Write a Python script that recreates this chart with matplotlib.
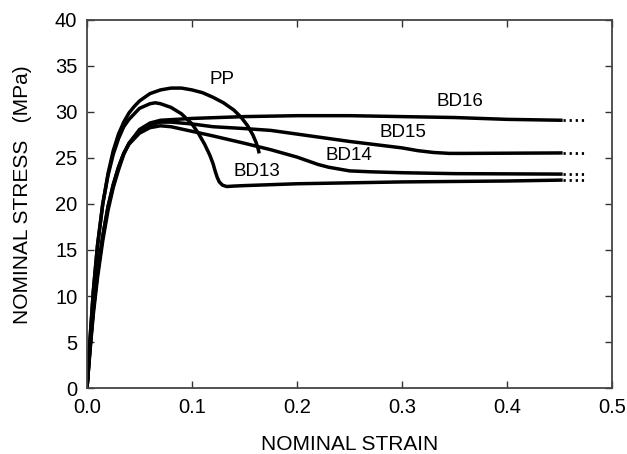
import matplotlib
matplotlib.use("Agg")
import matplotlib.pyplot as plt

plt.rcParams['font.family'] = ['Liberation Sans', 'DejaVu Sans']

# ---- data ----
pp_x = [0, 0.003, 0.006, 0.01, 0.015, 0.02, 0.025, 0.03, 0.035, 0.04, 0.045, 0.05, 0.06, 0.07,
        0.08, 0.09, 0.1, 0.11, 0.12, 0.13, 0.14, 0.147, 0.153, 0.158, 0.161, 0.163, 0.164]
pp_y = [0, 5.5, 10.5, 15.5, 20.0, 23.3, 25.8, 27.6, 28.9, 29.9, 30.6, 31.2, 32.0, 32.4,
        32.6, 32.6, 32.4, 32.1, 31.6, 31.0, 30.2, 29.4, 28.5, 27.5, 26.7, 26.0, 25.5]

bd13_x = [0, 0.003, 0.006, 0.01, 0.015, 0.02, 0.025, 0.03, 0.035, 0.04, 0.05, 0.06, 0.065, 0.07,
          0.08, 0.09, 0.1, 0.106, 0.112, 0.117, 0.12, 0.122, 0.124, 0.126, 0.129, 0.133, 0.14,
          0.15, 0.2, 0.3, 0.4, 0.453]
bd13_y = [0, 5.5, 10.5, 15.5, 20.0, 23.1, 25.4, 27.1, 28.4, 29.2, 30.4, 30.9, 31.0, 30.9,
          30.5, 29.8, 28.7, 27.7, 26.5, 25.3, 24.4, 23.6, 22.9, 22.4, 22.05, 21.9, 21.95,
          22.0, 22.2, 22.4, 22.5, 22.6]

bd14_x = [0, 0.003, 0.006, 0.01, 0.015, 0.02, 0.025, 0.03, 0.035, 0.04, 0.05, 0.06, 0.07, 0.08,
          0.1, 0.12, 0.15, 0.175, 0.2, 0.21, 0.22, 0.23, 0.24, 0.25, 0.27, 0.3, 0.35, 0.453]
bd14_y = [0, 4.5, 8.5, 12.5, 16.5, 19.7, 22.1, 24.0, 25.5, 26.5, 27.7, 28.3, 28.5, 28.4,
          27.9, 27.4, 26.6, 25.9, 25.1, 24.7, 24.3, 24.0, 23.8, 23.6, 23.5, 23.4, 23.3, 23.25]

bd15_x = [0, 0.003, 0.006, 0.01, 0.015, 0.02, 0.025, 0.03, 0.035, 0.04, 0.05, 0.06, 0.07, 0.08,
          0.1, 0.12, 0.15, 0.175, 0.2, 0.25, 0.3, 0.315, 0.33, 0.345, 0.36, 0.453]
bd15_y = [0, 4.5, 8.5, 12.5, 16.5, 19.7, 22.1, 24.0, 25.5, 26.6, 27.9, 28.6, 28.9, 28.9,
          28.7, 28.4, 28.2, 28.0, 27.6, 26.8, 26.1, 25.8, 25.6, 25.5, 25.5, 25.55]

bd16_x = [0, 0.003, 0.006, 0.01, 0.015, 0.02, 0.025, 0.03, 0.035, 0.04, 0.05, 0.06, 0.07, 0.1,
          0.15, 0.2, 0.25, 0.3, 0.35, 0.4, 0.453]
bd16_y = [0, 4.2, 8.0, 12.0, 16.0, 19.3, 21.8, 23.7, 25.4, 26.6, 28.1, 28.8, 29.1, 29.3,
          29.5, 29.6, 29.6, 29.5, 29.4, 29.2, 29.1]

ext_x = [0.453, 0.473]

labels = ['PP', 'BD13', 'BD14', 'BD15', 'BD16']
label_x = [0.129, 0.162, 0.249, 0.301, 0.355]
label_y = [33.5, 23.5, 25.3, 27.8, 31.1]

x_ticks = [0.0, 0.1, 0.2, 0.3, 0.4, 0.5]
x_tick_labels = ['0.0', '0.1', '0.2', '0.3', '0.4', '0.5']
y_ticks = [0, 5, 10, 15, 20, 25, 30, 35, 40]

# ---- plot ----
fig = plt.figure(figsize=(6.27, 4.54), dpi=100)
ax = fig.add_axes([87/627, 1 - 388/454, (612-87)/627, (388-20)/454])

lw = 2.5
for xs, ys in [(pp_x, pp_y), (bd13_x, bd13_y), (bd14_x, bd14_y), (bd15_x, bd15_y), (bd16_x, bd16_y)]:
    ax.plot(xs, ys, color='black', lw=lw, solid_capstyle='butt', solid_joinstyle='round')

for ys in [bd13_y, bd14_y, bd15_y, bd16_y]:
    ax.plot(ext_x, [ys[-1], ys[-1]], color='black', lw=2.0, linestyle=(0, (0.8, 1.4)))

for t, lx, ly in zip(labels, label_x, label_y):
    ax.text(lx, ly, t, fontsize=13.5, ha='center', va='center')

ax.set_xlim(0, 0.5)
ax.set_ylim(0, 40)
ax.set_xticks(x_ticks)
ax.set_xticklabels(x_tick_labels)
ax.set_yticks(y_ticks)
ax.tick_params(direction='in', length=5, width=1, labelsize=14.5, top=True, right=True, pad=7,
               color='#333333')
for s in ax.spines.values():
    s.set_linewidth(1.3)
    s.set_color('#444444')

ax.set_xlabel('NOMINAL STRAIN', fontsize=15, labelpad=13)
ax.set_ylabel('NOMINAL STRESS   (MPa)', fontsize=15)
ax.yaxis.set_label_coords(-0.105, 0.524)

fig.savefig('out.png', dpi=100)
